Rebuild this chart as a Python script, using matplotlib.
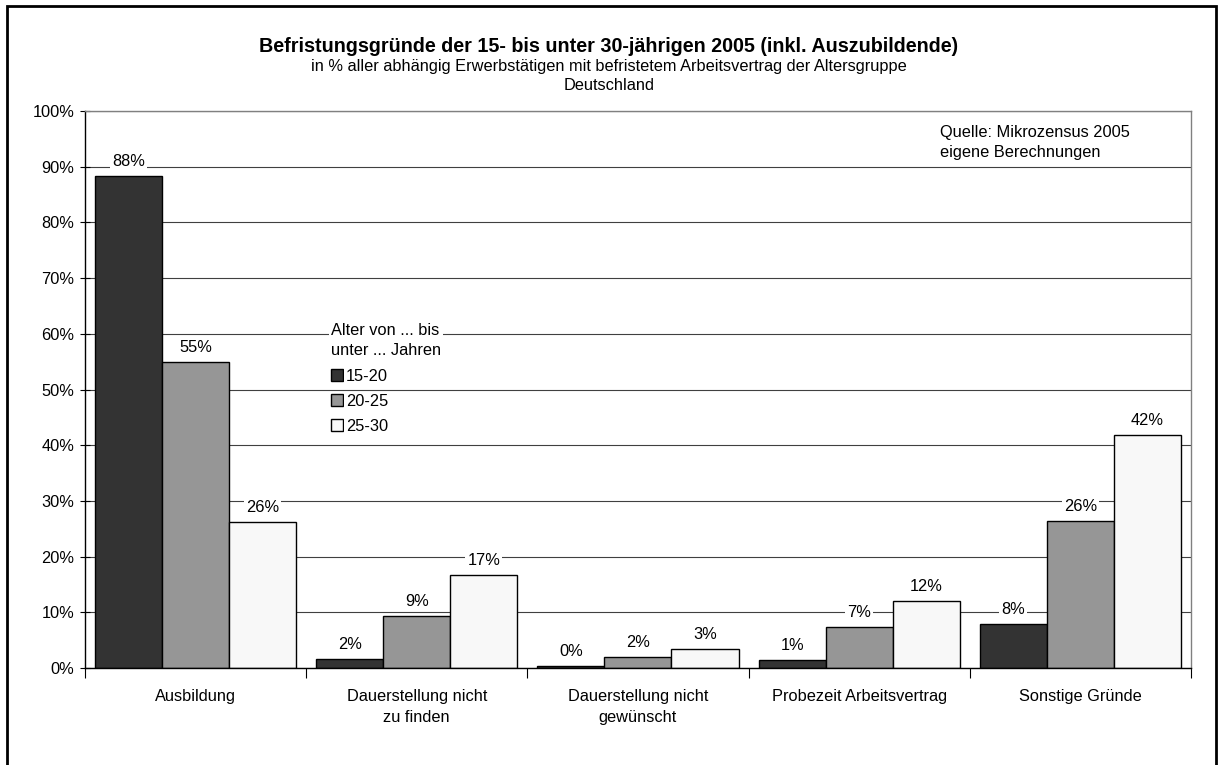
# import
import numpy as np
import matplotlib.pyplot as plt
from matplotlib.patches import Rectangle

plt.rcParams['font.family'] = ['Liberation Sans', 'DejaVu Sans']

# data
categories = ["Ausbildung", "Dauerstellung nicht\nzu finden", "Dauerstellung nicht\ngewünscht",
              "Probezeit Arbeitsvertrag", "Sonstige Gründe"]
groups = ["15-20", "20-25", "25-30"]
age_15_20 = [88.4, 1.6, 0.4, 1.4, 7.9]
age_20_25 = [54.9, 9.4, 2.0, 7.4, 26.4]
age_25_30 = [26.2, 16.7, 3.4, 12.0, 41.8]
yticks = [0, 10, 20, 30, 40, 50, 60, 70, 80, 90, 100]

fs = 11.8  # base font size

# setting for plot
fig = plt.figure(figsize=(12.18, 7.65), dpi=100)
ax = fig.add_axes([0.0698, 0.1268, 0.908, 0.728])

colorset = ["#333333", "#969696", "#f8f8f8"]
series = [age_15_20, age_20_25, age_25_30]
x = np.arange(len(categories))
width = 0.303

ax.set_axisbelow(True)
for i, values in enumerate(series):
    bars = ax.bar(x + (i - 1) * width, values, width, color=colorset[i],
                  edgecolor="black", linewidth=1.0, label=groups[i], zorder=2)
    labels = ax.bar_label(bars, labels=["%.0f%%" % v for v in values], padding=5,
                          fontsize=fs, zorder=4)
    for t in labels:
        t.set_bbox(dict(facecolor="white", edgecolor="none", pad=1.5))

# axes
ax.set_xlim(-0.5, len(categories) - 0.5)
ax.set_ylim(0, 100)
ax.set_yticks(yticks)
ax.set_yticklabels(["%d%%" % v for v in yticks], fontsize=fs)
ax.yaxis.grid(True, color="#404040", linewidth=0.8)
ax.tick_params(axis="y", direction="inout", length=7, width=0.8, pad=4)
ax.set_xticks(x)
ax.set_xticklabels(categories, fontsize=fs, linespacing=1.5)
ax.tick_params(axis="x", which="major", length=0, pad=15)
ax.set_xticks(np.arange(len(categories) + 1) - 0.5, minor=True)
ax.tick_params(axis="x", which="minor", direction="out", length=7, width=0.8)
ax.spines["left"].set_color("black")
ax.spines["bottom"].set_color("black")
ax.spines["top"].set_color("#808080")
ax.spines["right"].set_color("#808080")
for s in ax.spines.values():
    s.set_linewidth(1.0)

# legend, each text gets its own white box over the grid
leg = ax.legend(title="Alter von ... bis\nunter ... Jahren", loc="upper left",
                bbox_to_anchor=(331 / 1218, 1 - 323 / 765), bbox_transform=fig.transFigure,
                fontsize=fs, title_fontsize=fs, frameon=False,
                handlelength=0.72, handleheight=0.72, handletextpad=0.2,
                borderpad=0, labelspacing=0.62, borderaxespad=0)
leg._legend_box.align = "left"
leg.get_title().set_linespacing(1.45)
leg.get_title().set_bbox(dict(facecolor="white", edgecolor="none", pad=1.5))
for t in leg.get_texts():
    t.set_bbox(dict(facecolor="white", edgecolor="none", pad=1.5))
leg.set_zorder(5)

# titles
fig.text(0.5, 1 - 47 / 765, "Befristungsgründe der 15- bis unter 30-jährigen 2005 (inkl. Auszubildende)",
         ha="center", va="center", fontsize=14.2, fontweight="bold")
fig.text(0.5, 1 - 67 / 765, "in % aller abhängig Erwerbstätigen mit befristetem Arbeitsvertrag der Altersgruppe",
         ha="center", va="center", fontsize=fs)
fig.text(0.5, 1 - 86 / 765, "Deutschland", ha="center", va="center", fontsize=fs)

# source
fig.text(940 / 1218, 1 - 133 / 765, "Quelle: Mikrozensus 2005",
         ha="left", va="center", fontsize=fs)
fig.text(940 / 1218, 1 - 153 / 765, "eigene Berechnungen",
         ha="left", va="center", fontsize=fs)

# frame around the whole chart
fig.patches.append(Rectangle((7 / 1218, -0.05), 1209 / 1218, 1.05 - 6 / 765,
                             transform=fig.transFigure, fill=False,
                             edgecolor="black", linewidth=2))

fig.savefig("out.png", dpi=100)
